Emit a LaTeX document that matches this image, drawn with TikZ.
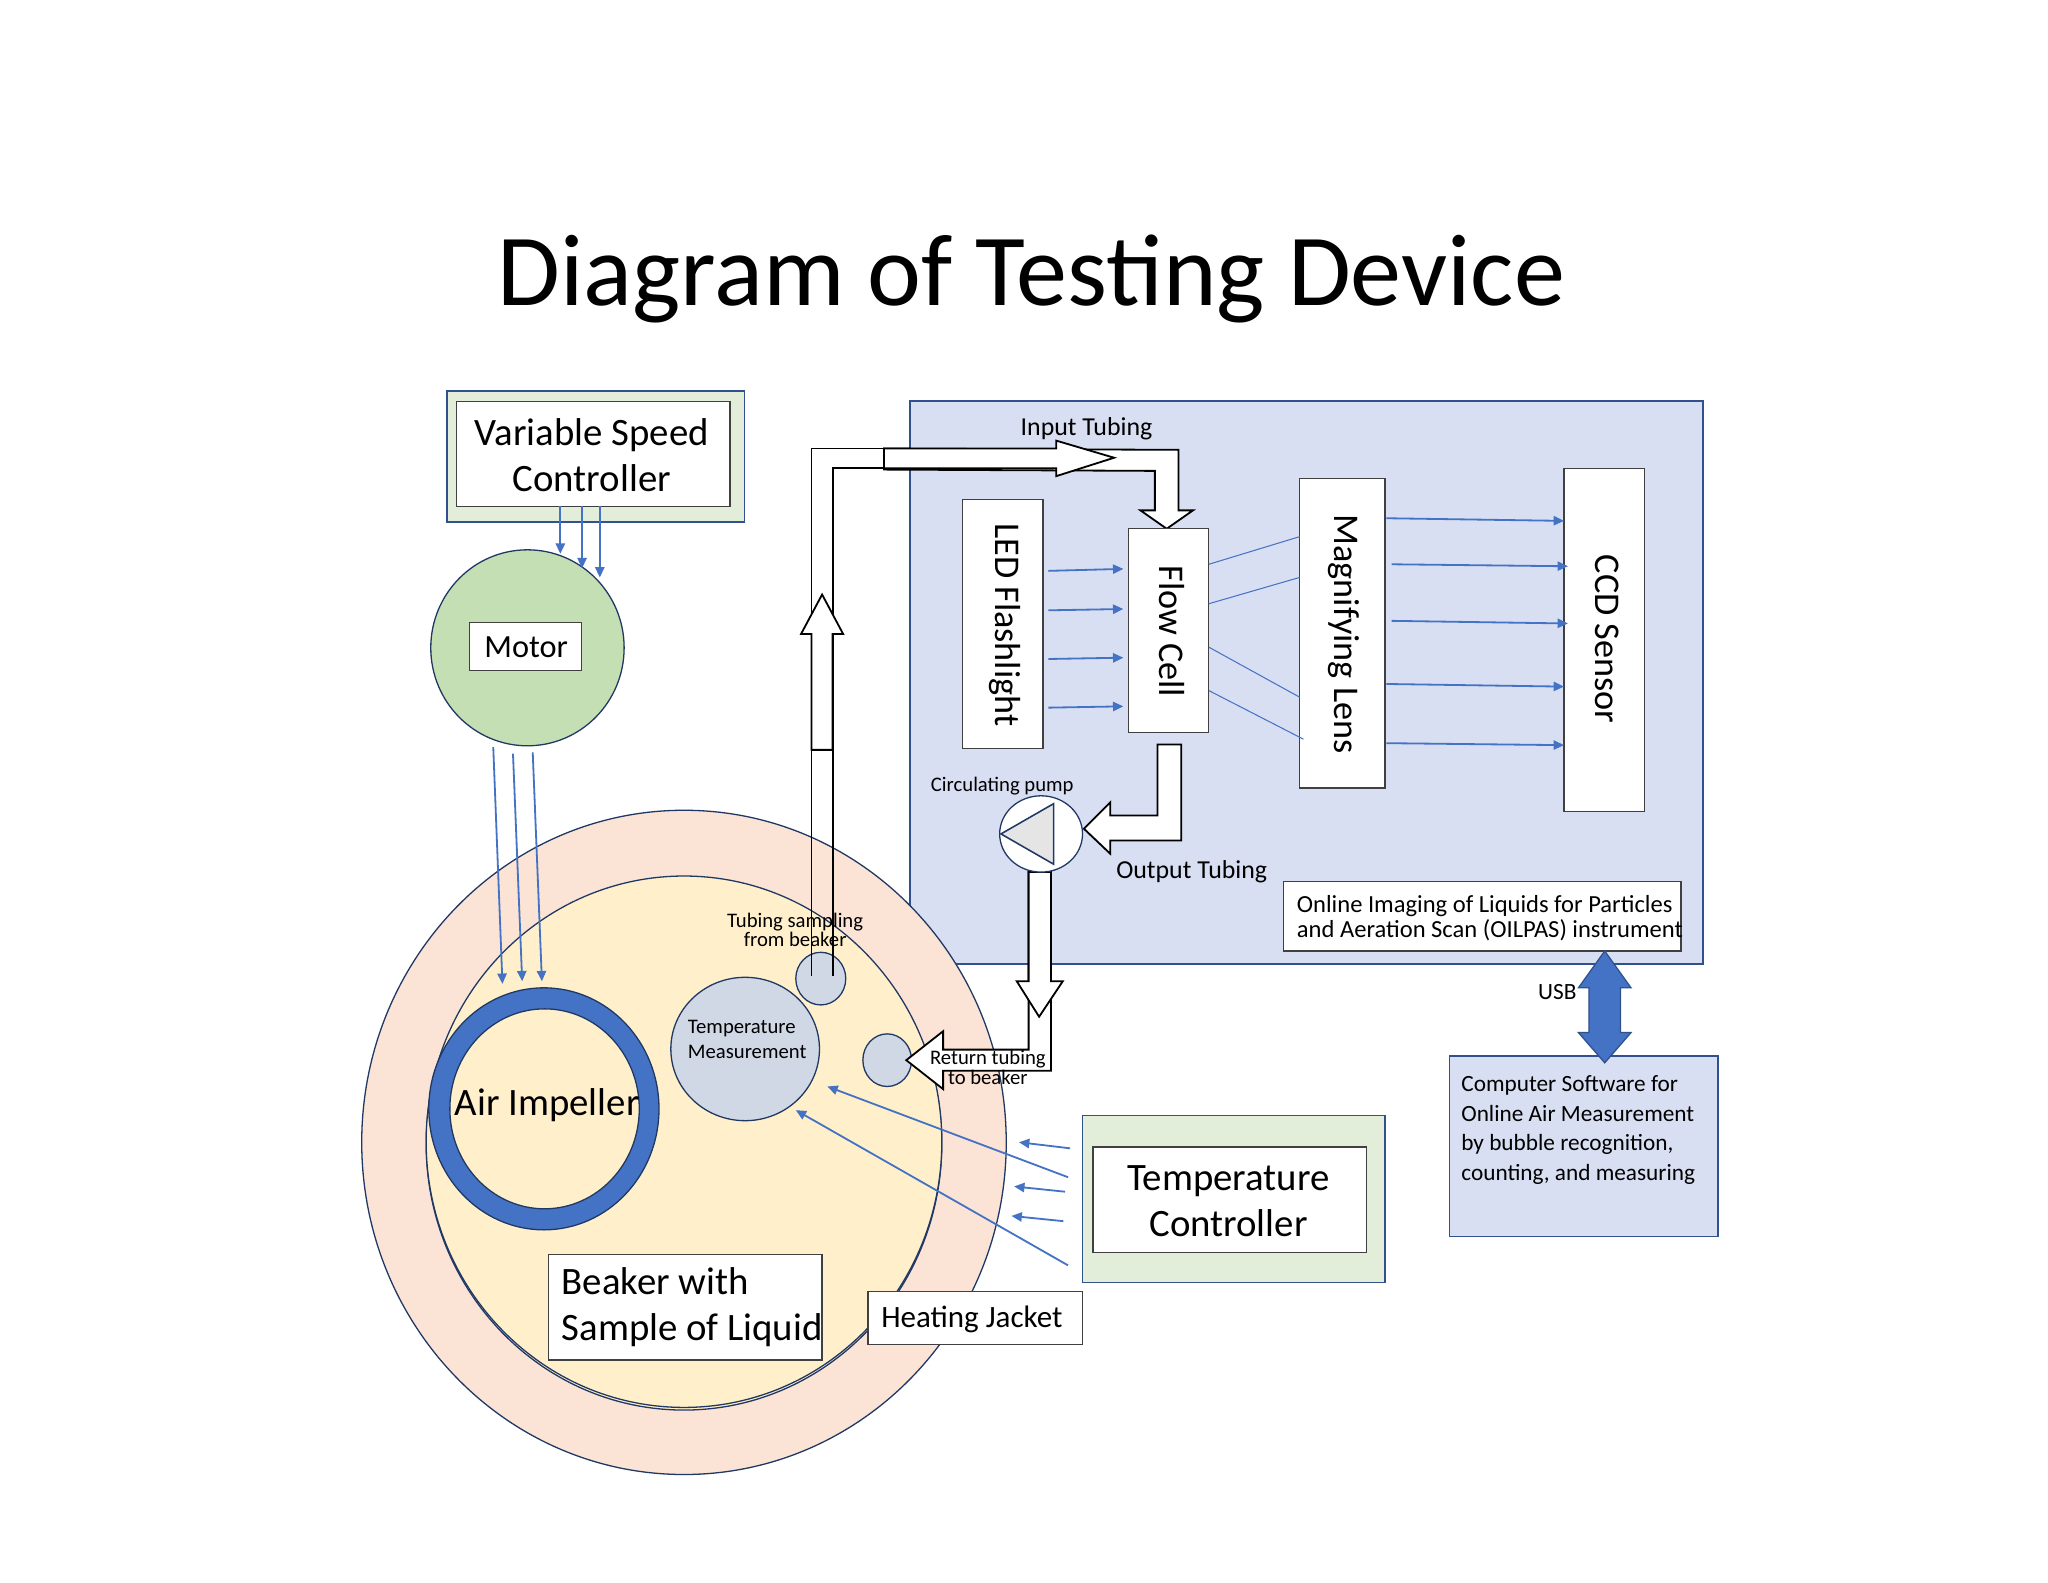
\documentclass[tikz,border=0pt]{standalone}
\usepackage{fontspec}
\usepackage{graphicx}
\setmainfont{Carlito}
\usetikzlibrary{arrows.meta,shapes.geometric}
\definecolor{navy}{HTML}{1F3864}
\definecolor{panelblue}{HTML}{2F528F}
\definecolor{ray}{HTML}{4472C4}
\definecolor{panelfill}{HTML}{D9DFF2}
\definecolor{ctrlfill}{HTML}{E2EEDA}
\definecolor{motorfill}{HTML}{C5DFB4}
\definecolor{jacketfill}{HTML}{FBE3D6}
\definecolor{beakerfill}{HTML}{FFF0CB}
\definecolor{probefill}{HTML}{D1D8E5}
\definecolor{boxline}{HTML}{404040}
\newcommand\fs[1]{\fontsize{#1}{#1}\selectfont}
\newcommand\pxbox[7]{%
  \pgfmathsetmacro\pw{(#4-#2)*0.50867}%
  \pgfmathsetmacro\ph{(#5-#3)*0.50867}%
  \node[#6,minimum width=\pw pt,minimum height=\ph pt,inner sep=0pt,outer sep=0pt] (#1) at ({(#2+#4)/2},{(#3+#5)/2}) {#7};}
\newcommand\pxray[6]{%
  \coordinate (#1s) at (#2,#3);\coordinate (#1e) at (#4,#5);
  \draw[#6] (#1s) -- (#1e);}
\tikzset{
  whitebox/.style={draw=boxline,fill=white,line width=0.5pt,rectangle},
  panel/.style={draw=panelblue,fill=panelfill,line width=0.7pt,rectangle},
  ctrl/.style={draw=panelblue,fill=ctrlfill,line width=0.7pt,rectangle},
  round/.style={ellipse,draw=navy,line width=0.5pt},
  beam/.style={ray,line width=0.7pt,-{Triangle[length=4pt,width=3.6pt]}},
  thinbeam/.style={ray,line width=0.4pt},
  tube/.style={draw=black,fill=white,line width=0.7pt,line join=miter},
  lab/.style={text=black,inner sep=0pt,outer sep=0pt},
}
\begin{document}
\begin{tikzpicture}[x=0.50867pt,y=-0.50867pt]
\useasboundingbox (0,0) rectangle (1557,1203.1);
\fill[white] (0,0) rectangle (1557,1203.1);
% title
\node[lab,anchor=base,font=\fs{39.5}] (title) at (784,232) {Diagram of Testing Device};
% panel
\pxbox{panel}{692}{305}{1295}{733}{panel}{}
% jacket and beaker
\pxbox{jacket}{275}{616}{765}{1121}{round,fill=jacketfill}{}
\pxbox{beakerB}{324}{667}{716}{1072}{round,fill=beakerfill}{}
\pxbox{beaker}{324}{666}{716}{1070}{round,fill=beakerfill}{}
\pxbox{ringO}{326}{751}{501}{935}{round,fill=ray}{}
\pxbox{ringI}{342}{767}{486}{919}{round,fill=beakerfill}{}
\pxbox{temp}{510}{743}{623}{852}{round,fill=probefill}{}
\pxbox{probeA}{605}{724}{643}{764}{round,fill=probefill}{}
\pxbox{probeB}{656}{786}{693}{826}{round,fill=probefill}{}
% speed controller and motor
\pxbox{vsOuter}{340}{297}{566}{397}{ctrl}{}
\pxbox{vsInner}{347}{305}{555}{385}{whitebox}{}
\pxbox{motor}{327.5}{418}{474.5}{567}{round,fill=motorfill}{}
\pxbox{motorBox}{357}{473}{442}{510}{whitebox}{}
\pxray{va}{426}{385}{426}{421}{beam}
\pxray{vb}{442.5}{385}{442.5}{432}{beam}
\pxray{vc}{456}{385}{456}{439}{beam}
\pxray{ma}{375}{568}{382}{748}{beam}
\pxray{mb}{390}{573}{397}{746}{beam}
\pxray{mc}{405}{572}{412}{746}{beam}
% sampling tube
\draw[black,line width=0.7pt] (617,742) -- (617,341) -- (672,341);
\draw[black,line width=0.7pt] (633,742) -- (633,356) -- (672,356);
\draw[black,line width=0.7pt] (617,570) -- (633,570);
\path[tube] (617,570) -- (617,482) -- (609,482) -- (625,452) -- (641,482) -- (633,482) -- (633,570) -- cycle;
% input tube
\path[tube] (672,341) -- (896,342) -- (896,388) -- (907,388) -- (887,402) -- (867,388) -- (878,388) -- (878,358) -- (672,357) -- cycle;
\path[tube] (672,341) -- (803,341) -- (803,335) -- (847,348) -- (803,362) -- (803,356) -- (672,356) -- cycle;
% optical boxes
\pxbox{led}{732}{380}{793}{569}{whitebox}{}
\pxbox{flow}{858}{402}{919}{557}{whitebox}{}
\pxbox{lens}{988}{364}{1053}{599}{whitebox}{}
\pxbox{ccd}{1189}{356}{1250}{617}{whitebox}{}
\pxray{la}{797}{434}{854}{432.5}{beam}
\pxray{lb}{797}{464}{854}{463}{beam}
\pxray{lc}{797}{501}{854}{500}{beam}
\pxray{ld}{797}{538}{854}{537}{beam}
\pxray{fa}{919}{429}{988}{408}{thinbeam}
\pxray{fb}{919}{459}{988}{439}{thinbeam}
\pxray{fc}{919}{492}{988}{530}{thinbeam}
\pxray{fd}{919}{525}{991}{562}{thinbeam}
\pxray{ca}{1054}{394}{1189}{396}{beam}
\pxray{cb}{1058}{429}{1192}{430.5}{beam}
\pxray{cc}{1058}{472}{1192}{474}{beam}
\pxray{cd}{1054}{520}{1189}{522}{beam}
\pxray{ce}{1054}{565}{1189}{566.5}{beam}
% output tube
\path[tube] (880,566) -- (898,566) -- (898,639) -- (844,639) -- (844,649) -- (824,630) -- (844,610) -- (844,620) -- (880,620) -- cycle;
% return tube
\path[tube] (782,663) -- (799,663) -- (799,814) -- (717,814) -- (717,828) -- (689,806) -- (717,784) -- (717,798) -- (782,798) -- cycle;
\path[tube] (782,663) -- (799,663) -- (799,746) -- (808,746) -- (790,773) -- (773,746) -- (782,746) -- cycle;
% pump
\pxbox{pump}{760}{605}{823}{663}{round,fill=white}{}
\path[draw=navy,fill=gray!20,line width=0.6pt] (761,634) -- (801,611) -- (801,657) -- cycle;
% info box
\pxbox{info}{976}{670}{1278}{723}{whitebox}{}
% software
\pxbox{soft}{1102}{803}{1306}{940}{panel}{}
\path[draw=panelblue,fill=ray,line width=0.5pt] (1220,723) -- (1240,751) -- (1232,751) -- (1232,785) -- (1240,785) -- (1220,808) -- (1200,785) -- (1208,785) -- (1208,751) -- (1200,751) -- cycle;
% temperature controller
\pxbox{tcOuter}{823}{848}{1053}{975}{ctrl}{}
\pxbox{tcInner}{831}{872}{1039}{952}{whitebox}{}
\pxray{ta}{813.5}{873}{774.7}{868.4}{beam}
\pxray{tb}{809.7}{906}{771}{902}{beam}
\pxray{tc}{808.4}{928.4}{769}{924.4}{beam}
\pxray{td}{812}{895}{629}{826}{beam}
\pxray{te}{812}{962}{605}{844}{beam}
% labelled white boxes
\pxbox{beakerBox}{417}{954}{625}{1034}{whitebox}{}
\pxbox{jacketBox}{660}{982}{823}{1022}{whitebox}{}
% texts
\node[lab,align=center,font=\fontsize{15}{17.8}\selectfont] (vsT) at (450,346) {Variable Speed\\Controller};
\node[lab,font=\fs{12.5}] (motorT) at (400,492) {Motor};
\node[lab,font=\fs{15}] (airT) at (416,840) {Air Impeller};
\node[lab,align=left,anchor=west,font=\fontsize{8}{9.7}\selectfont] (tempT) at (523,790.5) {Temperature\\Measurement};
\node[lab,align=center,font=\fontsize{8}{7.6}\selectfont] (tubT) at (604.5,707) {Tubing sampling\\from beaker};
\node[lab,align=center,font=\fontsize{8}{6.6}\selectfont] (retT) at (751,811.5) {Return tubing\\to beaker};
\node[lab,font=\fs{10}] (inT) at (826,326) {Input Tubing};
\node[lab,font=\fs{10}] (outT) at (906,663) {Output Tubing};
\node[lab,font=\fs{8}] (pumpT) at (762,598) {Circulating pump};
\node[lab,rotate=-90,font=\fs{14}] (ledT) at (764,475) {LED Flashlight};
\node[lab,rotate=-90,font=\fs{14}] (flowT) at (891,480) {Flow Cell};
\node[lab,rotate=-90,font=\fs{14}] (lensT) at (1022,482) {Magnifying Lens};
\node[lab,rotate=-90,font=\fs{14}] (ccdT) at (1222,486) {CCD Sensor};
\node[lab,align=left,anchor=west,font=\fontsize{9.5}{8}\selectfont] (infoT) at (986,698) {Online Imaging of Liquids for Particles\\and Aeration Scan (OILPAS) instrument};
\node[lab,font=\fs{9}] (usbT) at (1184,754) {USB};
\node[lab,align=left,anchor=west,font=\fontsize{9}{11.4}\selectfont] (softT) at (1111,859) {Computer Software for\\Online Air Measurement\\by bubble recognition,\\counting, and measuring};
\node[lab,align=center,font=\fontsize{15}{17.8}\selectfont] (tcT) at (934,913) {Temperature\\Controller};
\node[lab,align=left,anchor=west,font=\fontsize{15}{17.8}\selectfont] (beakerT) at (427,994) {Beaker with\\Sample of Liquid};
\node[lab,anchor=west,font=\fs{12}] (jacketT) at (670,1003) {Heating Jacket};
\end{tikzpicture}
\end{document}
